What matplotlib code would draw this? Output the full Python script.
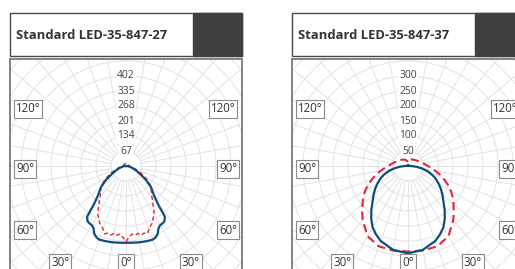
import numpy as np
import matplotlib
matplotlib.use("Agg")
import matplotlib.pyplot as plt
from matplotlib.patches import Rectangle

# ---------------- data ----------------
titles = ["Standard LED-35-847-27", "Standard LED-35-847-37"]
ring_steps = [67, 50]
ring_labels = [[67, 134, 201, 268, 335, 402], [50, 100, 150, 200, 250, 300]]
angle_labels = ["120°", "90°", "60°", "30°", "0°", "30°", "60°", "90°", "120°"]

# left panel (angle from nadir, cd/klm)
l_blue_theta = [0, 5, 10, 15, 20, 22.5, 25, 27.5, 30, 32.5, 35, 37.5, 40, 42.5, 45,
                50, 55, 60, 65, 70, 75, 80, 85, 90, 95, 180]
l_blue_val = [343, 344, 346, 348, 350, 345, 335, 314, 305, 304, 300, 285, 222, 192, 172,
              145, 110, 75, 52, 36, 24, 14, 7, 2, 0, 0]
l_red_theta = [0, 2.5, 5, 7.5, 10, 12.5, 15, 17.5, 20, 22.5, 25, 27.5, 30, 32.5, 35,
               37.5, 40, 45, 50, 55, 60, 65, 70, 75, 80, 85, 90, 100, 130, 180]
l_red_val = [338, 318, 305, 312, 306, 316, 310, 318, 300, 288, 280, 262, 252, 232, 210,
             195, 180, 160, 145, 122, 96, 72, 52, 38, 28, 20, 15, 12, 12, 12]

# right panel
r_blue_theta = [0, 10, 20, 25, 30, 35, 40, 45, 50, 55, 60, 65, 70, 75, 80, 85, 90, 95, 100, 180]
r_blue_val = [291, 284, 266, 252, 236, 214, 190, 167, 150, 134, 118, 103, 86, 68, 48, 28, 10, 4, 2, 2]
r_red_theta = [0, 10, 20, 30, 40, 45, 50, 55, 60, 65, 70, 75, 80, 85, 90, 100, 110, 120,
               130, 140, 150, 160, 170, 180]
r_red_val = [285, 286, 285, 270, 235, 216, 198, 182, 165, 146, 127, 110, 92, 78, 66, 52, 42, 35,
             31, 28, 25, 21, 17, 14]

panels = [
    dict(blue=(l_blue_theta, l_blue_val), red=(l_red_theta, l_red_val), red_dash=(3, 2), red_lw=1.0),
    dict(blue=(r_blue_theta, r_blue_val), red=(r_red_theta, r_red_val), red_dash=(4, 2.2), red_lw=1.5),
]

# ---------------- layout (pixels) ----------------
W, H = 515, 269
fig = plt.figure(figsize=(W / 100, H / 100), dpi=100)
FONT = "Open Sans"
BLUE = "#0c4f7c"
RED = "#e0263a"
GRID = "#e4e4e4"

def fx(px):
    return px / W

def fy(py):
    return 1 - py / H

panel_x0 = [10, 292]
panel_w = 232
centers = [(126, 166), (408, 166)]
px_per_ring = 15.0
R_PX = 175

label_offsets = [(-98, -57), (-101, 3), (-101, 64), (-66, 97), (0, 97),
                 (65, 97), (102, 64), (102, 3), (97, -57)]

for i, p in enumerate(panels):
    x0 = panel_x0[i]
    # title box
    fig.add_artist(Rectangle((fx(x0), fy(56)), fx(panel_w), 43 / H, transform=fig.transFigure,
                             fc="white", ec="#4a4a4a", lw=1.0, zorder=5))
    fig.add_artist(Rectangle((fx(x0 + 183), fy(56)), fx(panel_w - 183), 43 / H,
                             transform=fig.transFigure, fc="#404040", ec="#404040", lw=1.0, zorder=6))
    fig.text(fx(x0 + 6), fy(35.5), titles[i], fontsize=9.35, fontweight="bold", family=FONT,
             color="#333333", ha="left", va="center", zorder=7)

    # polar axes
    cx, cy = centers[i]
    ax = fig.add_axes([fx(cx - R_PX), fy(cy + R_PX), 2 * R_PX / W, 2 * R_PX / H], projection="polar")
    ax.set_theta_zero_location("S")
    step = ring_steps[i]
    rmax = step * R_PX / px_per_ring
    ax.set_ylim(0, rmax)
    ax.axis("off")
    clip = Rectangle((fx(x0), fy(330)), fx(panel_w), (330 - 59) / H, transform=fig.transFigure)

    tt = np.linspace(0, 2 * np.pi, 721)
    arts = []
    for k in range(1, 13):
        arts += ax.plot(tt, np.full_like(tt, k * step), color=GRID, lw=0.75, zorder=1)
    for a in range(0, 360, 10):
        if a == 180:
            continue
        arts += ax.plot([np.deg2rad(a)] * 2, [step, rmax], color=GRID, lw=0.75, zorder=1)

    bt, bv = p["blue"]
    bt = np.array(bt, float); bv = np.array(bv, float)
    th = np.deg2rad(np.concatenate([-bt[::-1], bt[1:]]))
    vv = np.concatenate([bv[::-1], bv[1:]])
    arts += ax.plot(th, vv, color=BLUE, lw=1.6, zorder=4, solid_joinstyle="round")
    rt, rv = p["red"]
    rt = np.array(rt, float); rv = np.array(rv, float)
    th = np.deg2rad(np.concatenate([-rt[::-1], rt[1:]]))
    vv = np.concatenate([rv[::-1], rv[1:]])
    arts += ax.plot(th, vv, color=RED, lw=p["red_lw"], ls=(0, p["red_dash"]), zorder=3)
    for a_ in arts:
        a_.set_clip_path(clip)

    for v in ring_labels[i]:
        ax.text(np.pi, v, str(v), ha="center", va="center", fontsize=7.4, family=FONT,
                color="#444444", zorder=6,
                bbox=dict(boxstyle="square,pad=0.1", fc="white", ec="none"))

    # frame
    fig.add_artist(Rectangle((fx(x0), fy(330)), fx(panel_w), (330 - 59) / H, transform=fig.transFigure,
                             fc="none", ec="#7a7a7a", lw=1.3, zorder=8))
    # angle labels
    for lab, (dx, dy) in zip(angle_labels, label_offsets):
        fig.text(fx(cx + dx), fy(cy + dy), lab, ha="center", va="center", fontsize=8.3, family=FONT,
                 color="#333333", zorder=9,
                 bbox=dict(boxstyle="square,pad=0.18", fc="white", ec="#8a8a8a", lw=0.8))

fig.savefig("out.png", dpi=100)
